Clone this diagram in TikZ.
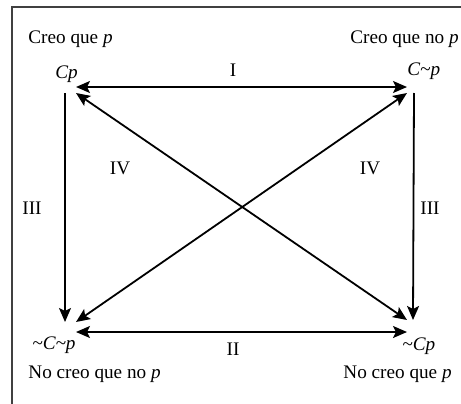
\documentclass[tikz,border=0pt]{standalone}
\usepackage{amsmath,amssymb}
\usepackage{xcolor}
\usepackage{fontspec}
\setmainfont{Liberation Serif}
\usetikzlibrary{arrows.meta}

\tikzset{
    hub/.style={inner sep=0pt, outer sep=0pt, rectangle},
    lbl/.style={inner sep=0pt, anchor=base west, font=\fontsize{9.6}{11}\selectfont},
    num/.style={inner sep=0pt, font=\fontsize{9.6}{11}\selectfont},
    arr/.style={line width=0.9pt, {Stealth[length=7pt,width=6pt,inset=1.5pt]}-{Stealth[length=7pt,width=6pt,inset=1.5pt]}},
    darr/.style={line width=0.9pt, -{Stealth[length=7pt,width=6pt,inset=1.5pt]}}
}

\begin{document}
\begin{tikzpicture}[x=0.5pt, y=0.5pt]
    \useasboundingbox (0,0) rectangle (461,403);
    \clip (0,0) rectangle (461,403);

    % Frame
    \draw[line width=0.75pt, black!75] (12,-5) -- (12,396) -- (470,396);

    % Corners
    \node[hub, minimum width=11pt, minimum height=6pt]  (tl) at (65,316) {};
    \node[hub, minimum width=7pt,  minimum height=6pt]  (tr) at (414,316) {};
    \node[hub, minimum width=11pt, minimum height=10pt] (bl) at (65,71) {};
    \node[hub, minimum width=6pt,  minimum height=12pt] (br) at (413,71) {};

    % Formulas
    \node[lbl] (cp)   at (55,325)  {\textit{Cp}};
    \node[lbl] (cnp)  at (407,328) {\textit{C\textasciitilde p}};
    \node[lbl] (ncnp) at (32,54)   {\textit{\textasciitilde C\textasciitilde p}};
    \node[lbl] (ncp)  at (402,53)  {\textit{\textasciitilde Cp}};

    % Readings
    \node[lbl] (rtl) at (28,360)  {Creo que \textit{p}};
    \node[lbl, anchor=base east] (rtr) at (459,360) {Creo que no \textit{p}};
    \node[lbl] (rbl) at (28,25)   {No creo que no \textit{p}};
    \node[lbl] (rbr) at (343,25)  {No creo que \textit{p}};

    % Relations
    \draw[arr] (tl.east) -- (tr.west);
    \draw[arr] (bl.east) -- (br.west);
    \draw[darr] (tl.south) -- (bl.north);
    \draw[darr] (tr.south) -- (br.north);
    \draw[arr] (tl.south east) -- (br.north west);
    \draw[arr] (bl.north east) -- (tr.south west);

    \node[num] (n1)  at (233,333) {I};
    \node[num] (n2)  at (233,54)  {II};
    \node[num] (n3a) at (32,195)  {III};
    \node[num] (n3b) at (430,195) {III};
    \node[num] (n4a) at (120,235) {IV};
    \node[num] (n4b) at (370,235) {IV};
\end{tikzpicture}
\end{document}
